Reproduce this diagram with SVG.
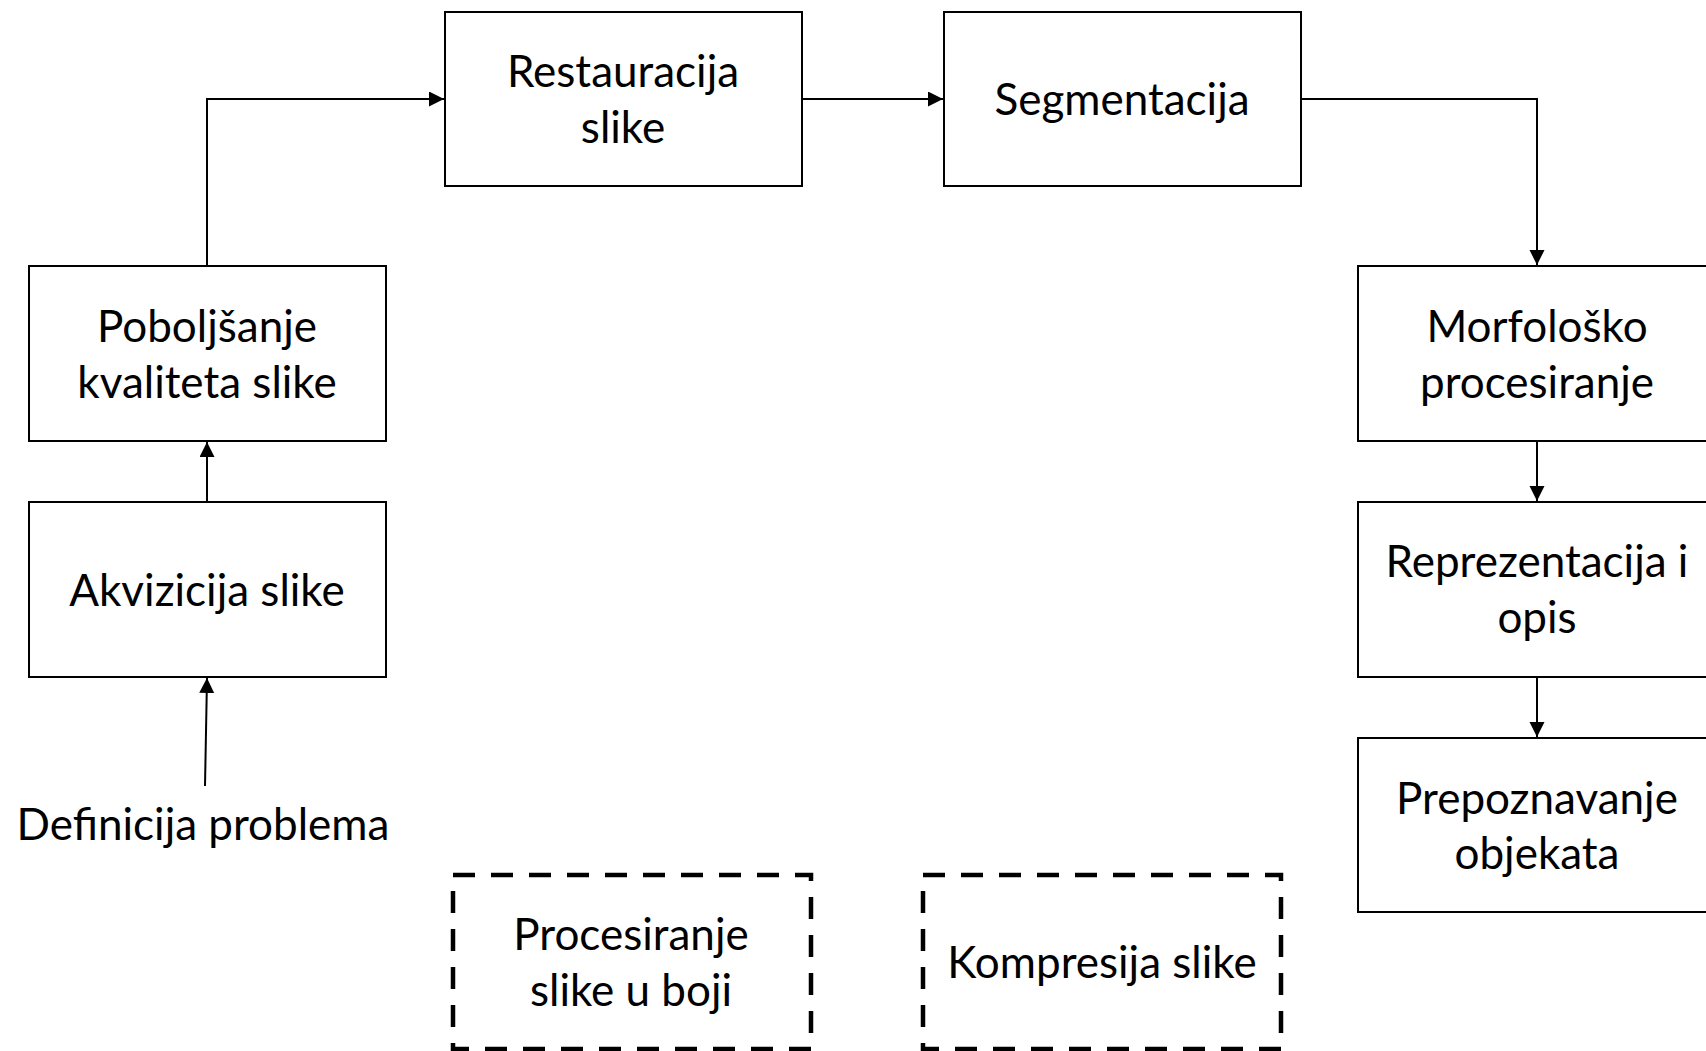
<svg xmlns="http://www.w3.org/2000/svg" width="1706" height="1051" viewBox="0 0 1706 1051">
<style>
.box{fill:#fff;stroke:#000;stroke-width:2}
.dbox{fill:none;stroke:#000;stroke-width:4.5;stroke-dasharray:22 16}
.t{font-family:Lato,"Liberation Sans",sans-serif;font-size:44px;fill:#000;text-anchor:middle}
.c{fill:none;stroke:#000;stroke-width:2}
</style>
<defs>
<marker id="ah" markerUnits="userSpaceOnUse" markerWidth="16" markerHeight="16" refX="15" refY="7.5" orient="auto">
<path d="M0,0 L15,7.5 L0,15 z" fill="#000"/>
</marker>
</defs>
<rect width="1706" height="1051" fill="#fff"/>
<g id="connectors">
<path class="c" d="M207,266 V99 H444" marker-end="url(#ah)"/>
<path class="c" d="M802,99 H943" marker-end="url(#ah)"/>
<path class="c" d="M1301,99 H1537 V265" marker-end="url(#ah)"/>
<path class="c" d="M1537,441 V501" marker-end="url(#ah)"/>
<path class="c" d="M1537,677 V737" marker-end="url(#ah)"/>
<path class="c" d="M207,502 V442" marker-end="url(#ah)"/>
<path class="c" d="M205,786 L207,678" marker-end="url(#ah)"/>
</g>
<g id="restauracija">
<rect class="box" x="445" y="12" width="357" height="174"/>
<text class="t" x="623" y="87">Restauracija</text>
<text class="t" x="623" y="143">slike</text>
</g>
<g id="segmentacija">
<rect class="box" x="944" y="12" width="357" height="174"/>
<text class="t" x="1122" y="115">Segmentacija</text>
</g>
<g id="poboljsanje">
<rect class="box" x="29" y="266" width="357" height="175"/>
<text class="t" x="207" y="342">Poboljšanje</text>
<text class="t" x="207" y="398">kvaliteta slike</text>
</g>
<g id="akvizicija">
<rect class="box" x="29" y="502" width="357" height="175"/>
<text class="t" x="207" y="606">Akvizicija slike</text>
</g>
<g id="definicija">
<text class="t" x="203" y="840">Definicija problema</text>
</g>
<g id="morfolosko">
<rect class="box" x="1358" y="266" width="357" height="175"/>
<text class="t" x="1537" y="342">Morfološko</text>
<text class="t" x="1537" y="398">procesiranje</text>
</g>
<g id="reprezentacija">
<rect class="box" x="1358" y="502" width="357" height="175"/>
<text class="t" x="1537" y="577">Reprezentacija i</text>
<text class="t" x="1537" y="633">opis</text>
</g>
<g id="prepoznavanje">
<rect class="box" x="1358" y="738" width="357" height="174"/>
<text class="t" x="1537" y="814">Prepoznavanje</text>
<text class="t" x="1537" y="869">objekata</text>
</g>
<g id="procesiranje">
<rect class="dbox" x="453" y="875" width="358" height="174"/>
<text class="t" x="631" y="950">Procesiranje</text>
<text class="t" x="631" y="1006">slike u boji</text>
</g>
<g id="kompresija">
<rect class="dbox" x="923" y="875" width="358" height="174"/>
<text class="t" x="1102" y="978">Kompresija slike</text>
</g>
</svg>
